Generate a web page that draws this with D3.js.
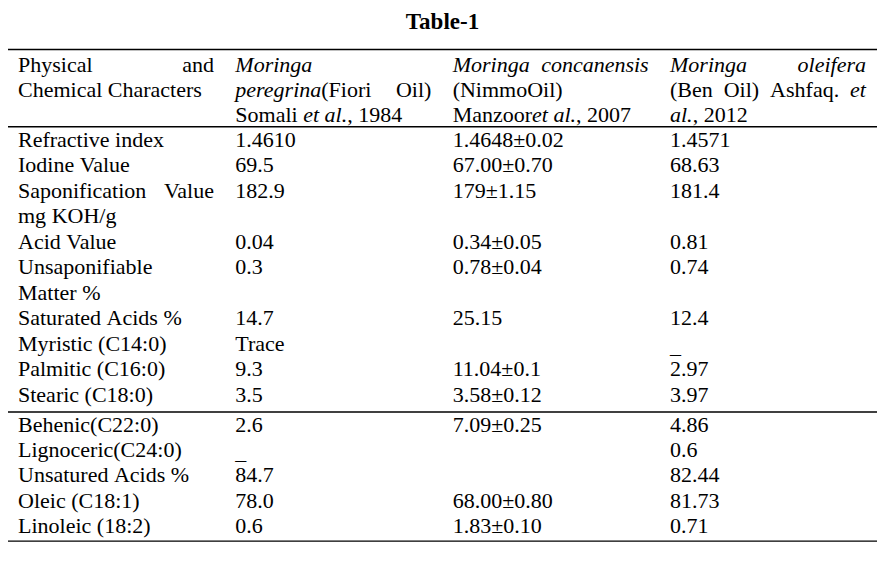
<!DOCTYPE html>
<html><head><meta charset="utf-8">
<script src="https://cdn.jsdelivr.net/npm/d3@7"></script>
<style>html,body{margin:0;padding:0;background:#fff;} svg{display:block;}</style>
</head><body>
<svg id="c" width="883" height="561"></svg>
<script>
// ---------- data ----------
const title = "Table-1";
const headers = [
  ["Physical and", "Chemical Characters"],
  ["*Moringa*", "*peregrina*(Fiori Oil)", "Somali *et al.*, 1984"],
  ["*Moringa concanensis*", "(NimmoOil)", "Manzoor*et al.*, 2007"],
  ["*Moringa oleifera*", "(Ben Oil) Ashfaq. *et*", "*al.*, 2012"]
];
const characters = [
  ["Refractive index"],
  ["Iodine Value"],
  ["Saponification Value", "mg KOH/g"],
  ["Acid Value"],
  ["Unsaponifiable", "Matter %"],
  ["Saturated Acids %"],
  ["Myristic (C14:0)"],
  ["Palmitic (C16:0)"],
  ["Stearic (C18:0)"],
  ["Behenic(C22:0)"],
  ["Lignoceric(C24:0)"],
  ["Unsatured Acids %"],
  ["Oleic (C18:1)"],
  ["Linoleic (18:2)"]
];
const peregrina = ["1.4610","69.5","182.9","0.04","0.3","14.7","Trace","9.3","3.5","2.6","_","84.7","78.0","0.6"];
const concanensis = ["1.4648±0.02","67.00±0.70","179±1.15","0.34±0.05","0.78±0.04","25.15","","11.04±0.1","3.58±0.12","7.09±0.25","","","68.00±0.80","1.83±0.10"];
const oleifera = ["1.4571","68.63","181.4","0.81","0.74","12.4","_","2.97","3.97","4.86","0.6","82.44","81.73","0.71"];
const groupBreakAfter = 8; // rule drawn after "Stearic"

// ---------- layout ----------
const W = 883, H = 561;
const FS = 22, FONT = "'Liberation Serif','Times New Roman',Times,serif";
const colW = 196;
const xCol = d3.scaleLinear().domain([0, 3]).range([18, 670]);
const yHead = d3.scaleLinear().domain([0, 1]).range([71.7, 96.95]);
const lineStep = 25.45, gapExtra = 4.6;
const yLineBase = d3.scaleLinear().domain([0, 1]).range([147, 147 + lineStep]);

const svg = d3.select("#c");
svg.append("rect").attr("width", W).attr("height", H).attr("fill", "#fff");

svg.append("text").attr("x", 442.5).attr("y", 29)
  .attr("text-anchor", "middle").attr("font-family", FONT)
  .attr("font-size", 23).attr("font-weight", "bold").attr("fill", "#000").text(title);

function parseLine(str) {
  const words = []; let italic = false, cur = [], buf = "";
  const flush = () => { if (buf) { cur.push({ t: buf, i: italic }); buf = ""; } };
  for (const ch of str) {
    if (ch === "*") { flush(); italic = !italic; }
    else if (ch === " ") { flush(); if (cur.length) { words.push(cur); cur = []; } }
    else buf += ch;
  }
  flush(); if (cur.length) words.push(cur);
  return words;
}

function drawCell(lines, x, yFn) {
  lines.forEach((ln, li) => {
    const words = parseLine(ln);
    const y = yFn(li) + (ln === "_" ? 2 : 0);
    const nodes = words.map(w => {
      const t = svg.append("text").attr("y", y).attr("font-family", FONT)
        .attr("font-size", FS).attr("fill", "#000");
      w.forEach(s => t.append("tspan").attr("font-style", s.i ? "italic" : "normal").text(s.t));
      return t;
    });
    const widths = nodes.map(n => n.node().getComputedTextLength());
    const justify = li < lines.length - 1 && words.length > 1;
    const gap = justify ? (colW - d3.sum(widths)) / (words.length - 1) : FS * 0.25;
    let cx = x;
    nodes.forEach((n, k) => { n.attr("x", cx); cx += widths[k] + gap; });
  });
}

// header
headers.forEach((h, c) => drawCell(h, xCol(c), li => yHead(li)));

// body
const cols = [peregrina, concanensis, oleifera];
let lineIdx = 0;
const yOf = (idx, r) => yLineBase(idx) + (r > groupBreakAfter ? gapExtra : 0);
let yStearic = 0, yLast = 0;
characters.forEach((lab, r) => {
  const start = lineIdx;
  drawCell(lab, xCol(0), li => yOf(start + li, r));
  cols.forEach((col, c) => { if (col[r] !== "") drawCell([col[r]], xCol(c + 1), () => yOf(start, r)); });
  lineIdx += lab.length;
  if (r === groupBreakAfter) yStearic = yOf(lineIdx - 1, r);
  yLast = yOf(lineIdx - 1, r);
});

// rules
const rules = [yHead(0) - 22.2, yHead(2) + 4.5, yStearic + 10.5, yLast + 7.8];
svg.selectAll("line.rule").data(rules).enter().append("line")
  .attr("x1", 8).attr("x2", 877).attr("y1", d => d).attr("y2", d => d)
  .attr("stroke", "#000").attr("stroke-width", 1.4);
</script>
</body></html>
